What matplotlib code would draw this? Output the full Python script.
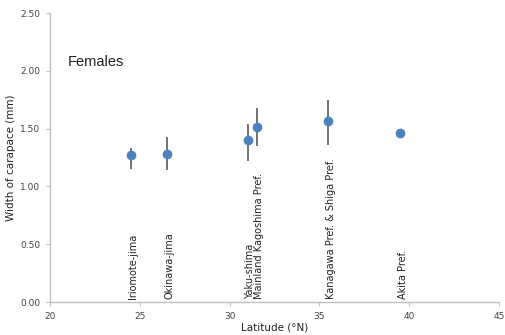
import matplotlib.pyplot as plt
import numpy as np

# latitude (°N) and mean carapace width (mm) for each site
sites = ['Iriomote-jima', 'Okinawa-jima', 'Yaku-shima', 'Mainland Kagoshima Pref.',
         'Kanagawa Pref. & Shiga Pref.', 'Akita Pref.']
lat = [24.5, 26.5, 31.0, 31.5, 35.5, 39.5]
width = [1.27, 1.28, 1.40, 1.51, 1.57, 1.46]
err_lo = [0.12, 0.14, 0.18, 0.16, 0.21, 0.02]
err_hi = [0.06, 0.15, 0.14, 0.17, 0.18, 0.02]

fig = plt.figure(figsize=(5.05, 3.35), dpi=100)
ax = fig.add_axes([0.099, 0.0985, 0.889, 0.8625])

ax.errorbar(lat, width, yerr=[err_lo, err_hi], fmt='none', ecolor='#5a5a5a',
            elinewidth=1.2, capsize=0, zorder=2)
ax.plot(lat, width, 'o', color='#4f81bd', markersize=6, zorder=3)

for x, name in zip(lat, sites):
    ax.text(x + 0.15, 0.03, name, rotation=90, ha='center', va='bottom',
            fontsize=7, color='#222222')

# panel title, a narrower face like the original
ax.text(21.0, 2.04, 'Females', fontsize=10.5, color='#222222', family='Liberation Sans')

ax.set_xlim(20, 45)
ax.set_ylim(0, 2.5)
ax.set_xticks([20, 25, 30, 35, 40, 45])
ax.set_yticks(np.arange(0, 2.51, 0.5))
ax.set_yticklabels(['%.2f' % v for v in np.arange(0, 2.51, 0.5)])

for s in ['top', 'right']:
    ax.spines[s].set_visible(False)
for s in ['left', 'bottom']:
    ax.spines[s].set_color('#bfbfbf')
    ax.spines[s].set_linewidth(1.0)
ax.tick_params(colors='#bfbfbf', labelcolor='#444444', labelsize=6.5, length=3, pad=4)

ax.set_xlabel('Latitude (°N)', fontsize=7.5, color='#222222', labelpad=1)
ax.set_ylabel('Width of carapace (mm)', fontsize=7.5, color='#222222', labelpad=3)

plt.savefig('out.png', dpi=100)
